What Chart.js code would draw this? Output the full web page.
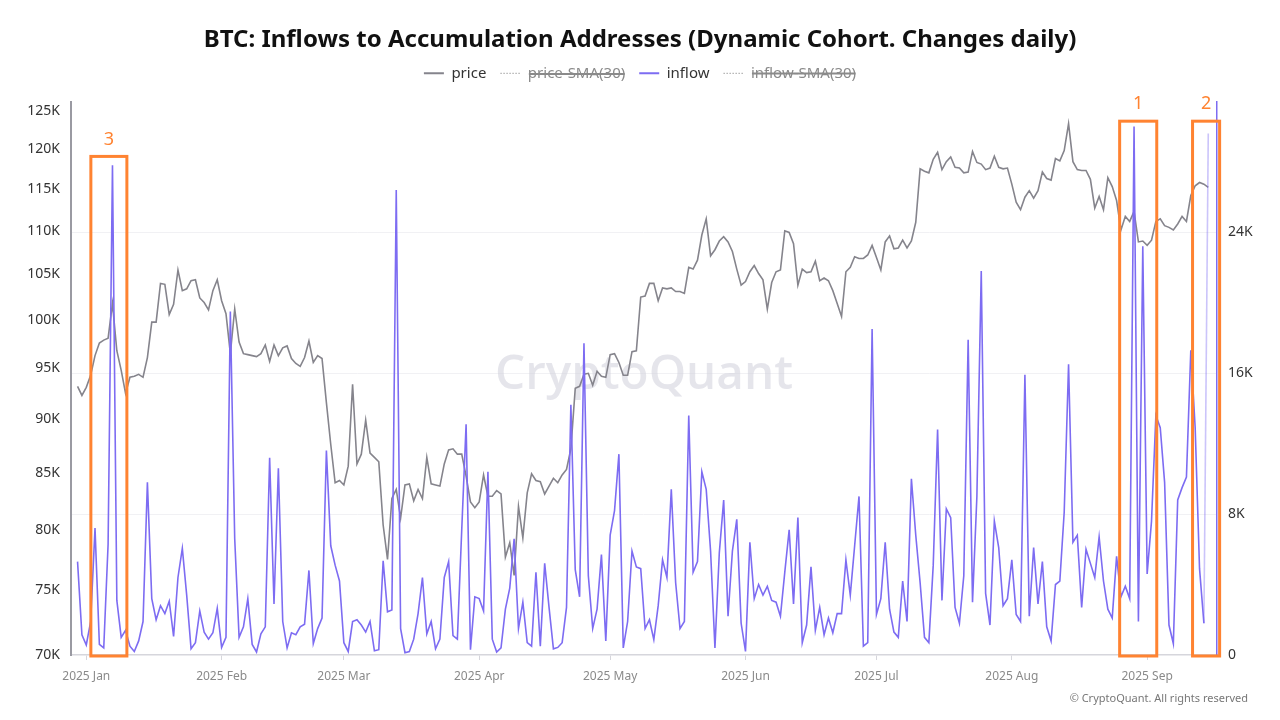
<!DOCTYPE html>
<html>
<head>
<meta charset="utf-8">
<title>BTC: Inflows to Accumulation Addresses</title>
<script src="https://cdn.jsdelivr.net/npm/chart.js@4.4.1/dist/chart.umd.min.js"></script>
<style>
  html, body { margin: 0; padding: 0; background: #ffffff; }
  #wrap { width: 1280px; height: 720px; }
</style>
</head>
<body>
<div id="wrap"><canvas id="chart" width="1280" height="720"></canvas></div>
<script>
// daily points, index 0 = 2024-12-30
const startDate = '2024-12-30';

// BTC price, thousands of USD
const priceK = [
  93.2, 92.3, 93.1, 94.3, 96.3, 97.6, 97.9, 98.1, 101.8, 96.8,
  94.8, 92.5, 94.1, 94.2, 94.4, 94.1, 96.1, 99.8, 99.8, 104.0,
  103.9, 100.6, 101.7, 105.5, 103.2, 103.4, 104.3, 104.4, 102.4, 101.9,
  101.1, 103.2, 104.4, 102.1, 100.7, 96.5, 101.2, 97.7, 96.5, 96.4,
  96.3, 96.2, 96.5, 97.4, 95.7, 97.4, 96.3, 97.1, 97.3, 96.0,
  95.5, 95.2, 96.1, 97.8, 95.6, 96.3, 96.0, 91.6, 87.6, 84.1,
  84.3, 83.9, 85.6, 93.4, 85.8, 86.7, 89.9, 86.8, 86.4, 86.0,
  80.4, 77.5, 82.7, 83.5, 81.0, 83.9, 84.0, 82.5, 83.5, 82.7,
  86.4, 84.0, 83.9, 83.8, 85.8, 87.1, 87.2, 86.7, 86.7, 84.7,
  82.4, 81.9, 82.4, 84.8, 82.9, 82.9, 83.4, 83.1, 77.7, 78.9,
  76.2, 82.0, 79.3, 83.2, 84.9, 84.3, 84.2, 83.1, 83.8, 84.5,
  84.1, 84.8, 85.3, 87.2, 93.0, 93.2, 94.4, 94.5, 93.3, 94.7,
  94.2, 94.1, 96.4, 96.5, 95.6, 94.3, 94.3, 96.7, 96.8, 102.5,
  102.6, 104.0, 104.0, 102.1, 103.5, 103.4, 103.5, 103.1, 103.1, 102.9,
  105.8, 105.6, 106.6, 109.5, 111.4, 107.1, 107.8, 108.8, 109.3, 108.7,
  107.6, 105.6, 103.8, 104.2, 105.3, 106.0, 105.1, 104.4, 101.2, 104.1,
  105.3, 105.5, 110.0, 109.8, 108.5, 103.8, 105.6, 105.2, 105.3, 106.5,
  104.3, 104.6, 104.3, 103.2, 101.8, 100.4, 105.3, 105.8, 107.0, 106.8,
  106.8, 107.2, 108.3, 106.9, 105.5, 108.7, 109.4, 107.9, 108.0, 108.9,
  108.0, 108.8, 111.0, 117.5, 117.2, 117.0, 118.7, 119.6, 117.4, 118.4,
  119.0, 117.7, 117.6, 117.0, 117.1, 119.7, 118.3, 118.1, 117.4, 117.6,
  119.1, 117.7, 117.5, 117.6, 115.6, 113.4, 112.5, 114.0, 114.8, 113.9,
  114.8, 117.1, 116.3, 116.1, 118.8, 118.5, 119.8, 123.3, 118.4, 117.4,
  117.3, 117.3, 116.2, 112.7, 114.1, 112.5, 116.4, 115.3, 113.6, 110.1,
  111.7, 111.1, 112.3, 108.7, 108.8, 108.3, 108.9, 111.1, 111.4, 110.6,
  110.4, 110.1, 110.8, 111.7, 111.1, 114.2, 115.4, 115.8, 115.6, 115.2
];

// inflow to accumulation addresses, thousands of BTC
const inflowK = [
  5.3, 1.15, 0.57, 1.9, 7.2, 0.6, 0.4, 6.3, 27.8, 3.1,
  1.0, 1.4, 0.5, 0.2, 0.8, 1.9, 9.8, 3.2, 2.0, 2.8,
  2.35, 3.05, 1.05, 4.4, 6.05, 3.4, 0.35, 0.7, 2.5, 1.3,
  0.9, 1.26, 2.65, 0.43, 1.0, 19.5, 6.6, 1.0, 1.6, 3.2,
  0.6, 0.17, 1.2, 1.6, 11.2, 2.9, 10.6, 1.9, 0.4, 1.26,
  1.15, 1.6, 1.75, 4.8, 0.65, 1.5, 2.1, 11.6, 6.2, 5.1,
  4.2, 0.7, 0.2, 1.9, 2.0, 1.7, 1.3, 1.9, 0.24, 0.3,
  5.35, 2.45, 2.55, 26.4, 1.5, 0.13, 0.2, 0.9, 2.35, 4.4,
  1.2, 1.9, 0.35, 0.9, 4.4, 5.3, 1.1, 0.9, 7.1, 13.1,
  0.3, 3.3, 3.2, 2.5, 10.4, 0.9, 0.17, 0.4, 2.6, 3.8,
  6.6, 1.5, 3.0, 0.7, 0.5, 4.7, 0.5, 5.2, 2.7, 0.35,
  0.43, 0.7, 2.7, 14.2, 4.85, 3.3, 17.7, 4.5, 1.5, 2.6,
  5.7, 0.8, 6.8, 8.2, 11.4, 0.4, 1.9, 5.9, 5.0, 4.9,
  1.5, 2.0, 0.87, 2.8, 5.4, 4.4, 9.4, 4.1, 1.5, 1.9,
  13.6, 4.7, 5.3, 10.4, 9.4, 5.9, 0.4, 5.8, 8.8, 2.2,
  5.9, 7.7, 1.8, 0.2, 6.4, 3.2, 4.0, 3.4, 3.9, 3.1,
  3.0, 2.2, 4.7, 7.1, 2.9, 7.8, 0.7, 1.7, 5.0, 1.4,
  2.7, 1.15, 2.1, 1.26, 2.35, 2.35, 5.4, 3.4, 6.2, 9.0,
  0.5, 0.7, 18.5, 2.3, 3.2, 6.4, 2.6, 1.3, 1.0, 4.2,
  1.9, 10.0, 6.8, 4.1, 1.0, 0.7, 5.1, 12.8, 3.1, 8.3,
  7.8, 2.7, 1.8, 4.5, 17.9, 3.0, 9.0, 21.8, 3.5, 1.7,
  7.6, 6.1, 2.8, 3.2, 5.4, 2.3, 1.9, 15.9, 2.2, 6.1,
  2.9, 5.3, 1.6, 0.8, 4.0, 4.2, 8.1, 16.5, 6.4, 6.8,
  2.7, 6.0, 5.2, 4.4, 6.7, 4.2, 2.6, 2.1, 5.6, 3.3,
  3.9, 3.2, 30.0, 1.9, 23.2, 4.6, 7.6, 13.6, 12.9, 9.8,
  1.7, 0.65, 8.8, 9.5, 10.1, 17.3, 12.9, 4.9, 1.8, 29.6
];

// x axis: month starts (day index) and their labels
const monthStarts = [2, 33, 61, 92, 122, 153, 183, 214, 245];
const monthLabels = ['2025 Jan', '2025 Feb', '2025 Mar', '2025 Apr', '2025 May',
                     '2025 Jun', '2025 Jul', '2025 Aug', '2025 Sep'];
const priceTicks = [70, 75, 80, 85, 90, 95, 100, 105, 110, 115, 120, 125];
const inflowTicks = [0, 8, 16, 24];

// orange highlight boxes: day range, top in inflow units
const highlights = [
  { label: '3', from: 3.05, to: 11.3, top: 28.3 },
  { label: '1', from: 238.7, to: 247.2, top: 30.3 },
  { label: '2', from: 255.4, to: 261.6, top: 30.3 }
];

const PRICE_COLOR = '#85848c';
const INFLOW_COLOR = '#7d6cf2';
const ORANGE = '#ff8331';
const FONT = "'Noto Sans', 'Open Sans', sans-serif";

const extras = {
  id: 'extras',
  afterInit(chart) {
    // a bit more room under the legend
    const lg = chart.legend;
    if (lg) {
      const fit = lg.fit;
      lg.fit = function () { fit.call(this); this.height += 11; };
    }
  },
  beforeDatasetsDraw(chart) {
    const { ctx, chartArea } = chart;
    ctx.save();
    ctx.font = "600 52px 'Open Sans', sans-serif";
    const w = ctx.measureText('CryptoQuant').width;
    const size = 52 * 298 / w;
    ctx.font = "600 " + size.toFixed(1) + "px 'Open Sans', sans-serif";
    ctx.fillStyle = 'rgba(208, 208, 218, 0.55)';
    ctx.textAlign = 'center';
    ctx.textBaseline = 'middle';
    ctx.fillText('CryptoQuant', (chartArea.left + chartArea.right) / 2, 375);
    ctx.restore();
  },
  afterDatasetsDraw(chart) {
    const { ctx } = chart;
    const xs = chart.scales.x;
    const yi = chart.scales.yI;
    ctx.save();
    ctx.strokeStyle = ORANGE;
    ctx.fillStyle = ORANGE;
    ctx.lineWidth = 3;
    ctx.font = '18px ' + FONT;
    ctx.textAlign = 'center';
    ctx.textBaseline = 'bottom';
    highlights.forEach(h => {
      const x1 = xs.getPixelForValue(h.from);
      const x2 = xs.getPixelForValue(h.to);
      const y1 = yi.getPixelForValue(h.top);
      const y2 = yi.getPixelForValue(0) + 1;
      ctx.strokeRect(x1, y1, x2 - x1, y2 - y1);
      ctx.fillText(h.label, (x1 + x2) / 2, y1 - 8);
    });
    ctx.restore();
  },
  afterDraw(chart) {
    const { ctx } = chart;
    ctx.save();
    ctx.font = '11px ' + FONT;
    ctx.fillStyle = '#777777';
    ctx.textAlign = 'right';
    ctx.textBaseline = 'middle';
    ctx.fillText('\u00a9 CryptoQuant. All rights reserved', 1248, 699);
    ctx.restore();
  }
};

const lastIdx = inflowK.length - 1;

new Chart(document.getElementById('chart'), {
  type: 'line',
  data: {
    datasets: [
      {
        label: 'price',
        data: priceK.map((v, i) => ({ x: i, y: v })),
        yAxisID: 'yP',
        borderColor: PRICE_COLOR,
        backgroundColor: PRICE_COLOR,
        borderWidth: 1.6,
        pointRadius: 0,
        order: 2
      },
      {
        label: 'price-SMA(30)',
        data: [],
        yAxisID: 'yP',
        hidden: true,
        borderColor: '#9a9a9a',
        borderDash: [2, 2],
        borderWidth: 1,
        pointRadius: 0
      },
      {
        label: 'inflow',
        data: inflowK.map((v, i) => ({ x: i, y: v })),
        yAxisID: 'yI',
        borderColor: INFLOW_COLOR,
        backgroundColor: INFLOW_COLOR,
        borderWidth: 1.6,
        pointRadius: 0,
        order: 1,
        segment: {
          borderColor: c => c.p1DataIndex === lastIdx ? 'rgba(125, 108, 242, 0.4)' : undefined
        }
      },
      {
        label: 'inflow-SMA(30)',
        data: [],
        yAxisID: 'yI',
        hidden: true,
        borderColor: '#9a9a9a',
        borderDash: [2, 2],
        borderWidth: 1,
        pointRadius: 0
      }
    ]
  },
  options: {
    responsive: false,
    animation: false,
    layout: { padding: { left: 0, right: 0, top: 0, bottom: 25 } },
    plugins: {
      title: {
        display: true,
        text: 'BTC: Inflows to Accumulation Addresses (Dynamic Cohort. Changes daily)',
        color: '#111111',
        font: { family: FONT, size: 24, weight: 'bold' },
        padding: { top: 26, bottom: -3 }
      },
      legend: {
        display: true,
        onClick: null,
        labels: {
          usePointStyle: true,
          pointStyle: 'line',
          pointStyleWidth: 20,
          padding: 14,
          font: { family: FONT, size: 15 },
          color: '#333333',
          sort: (a, b) => a.datasetIndex - b.datasetIndex,
          generateLabels(chart) {
            const items = Chart.defaults.plugins.legend.labels.generateLabels(chart);
            items.forEach(it => {
              it.fontColor = it.hidden ? '#8a8a8a' : '#333333';
              it.lineWidth = it.hidden ? 1 : 2;
              it.lineDash = it.hidden ? [1.5, 1.5] : [];
              it.strokeStyle = it.hidden ? '#a0a0a0' : chart.data.datasets[it.datasetIndex].borderColor;
            });
            return items;
          }
        }
      },
      tooltip: { enabled: false }
    },
    scales: {
      x: {
        type: 'linear',
        min: -1.5,
        max: 261,
        afterBuildTicks: s => { s.ticks = monthStarts.map(v => ({ value: v })); },
        afterFit: s => { s.height = 40; },
        ticks: {
          autoSkip: false,
          maxRotation: 0,
          color: '#8a8a8a',
          padding: 9,
          font: { family: FONT, size: 12 },
          callback: v => monthLabels[monthStarts.indexOf(v)]
        },
        grid: { display: true, drawOnChartArea: false, drawTicks: true, tickLength: 5, color: '#d6d6dc' },
        border: { display: true, color: '#d6d6dc', width: 1.5 }
      },
      yP: {
        type: 'logarithmic',
        position: 'left',
        min: 70,
        max: 126.2,
        afterBuildTicks: s => { s.ticks = priceTicks.map(v => ({ value: v })); },
        afterFit: s => { s.width = 71; },
        ticks: {
          color: '#333333',
          padding: 11,
          font: { family: FONT, size: 14 },
          callback: v => v + 'K'
        },
        grid: { display: false, drawTicks: false },
        border: { display: true, color: '#9a9aa2', width: 2 }
      },
      yI: {
        type: 'linear',
        position: 'right',
        min: 0,
        max: 31.4,
        afterBuildTicks: s => { s.ticks = inflowTicks.map(v => ({ value: v })); },
        afterFit: s => { s.width = 63; },
        ticks: {
          color: '#333333',
          padding: 11,
          font: { family: FONT, size: 14 },
          callback: v => v === 0 ? '0' : v + 'K'
        },
        grid: {
          display: true,
          drawTicks: false,
          color: c => c.tick && c.tick.value === 0 ? 'rgba(0,0,0,0)' : '#f1f1f4'
        },
        border: { display: true, color: INFLOW_COLOR, width: 1.5 }
      }
    }
  },
  plugins: [extras]
});
</script>
</body>
</html>
